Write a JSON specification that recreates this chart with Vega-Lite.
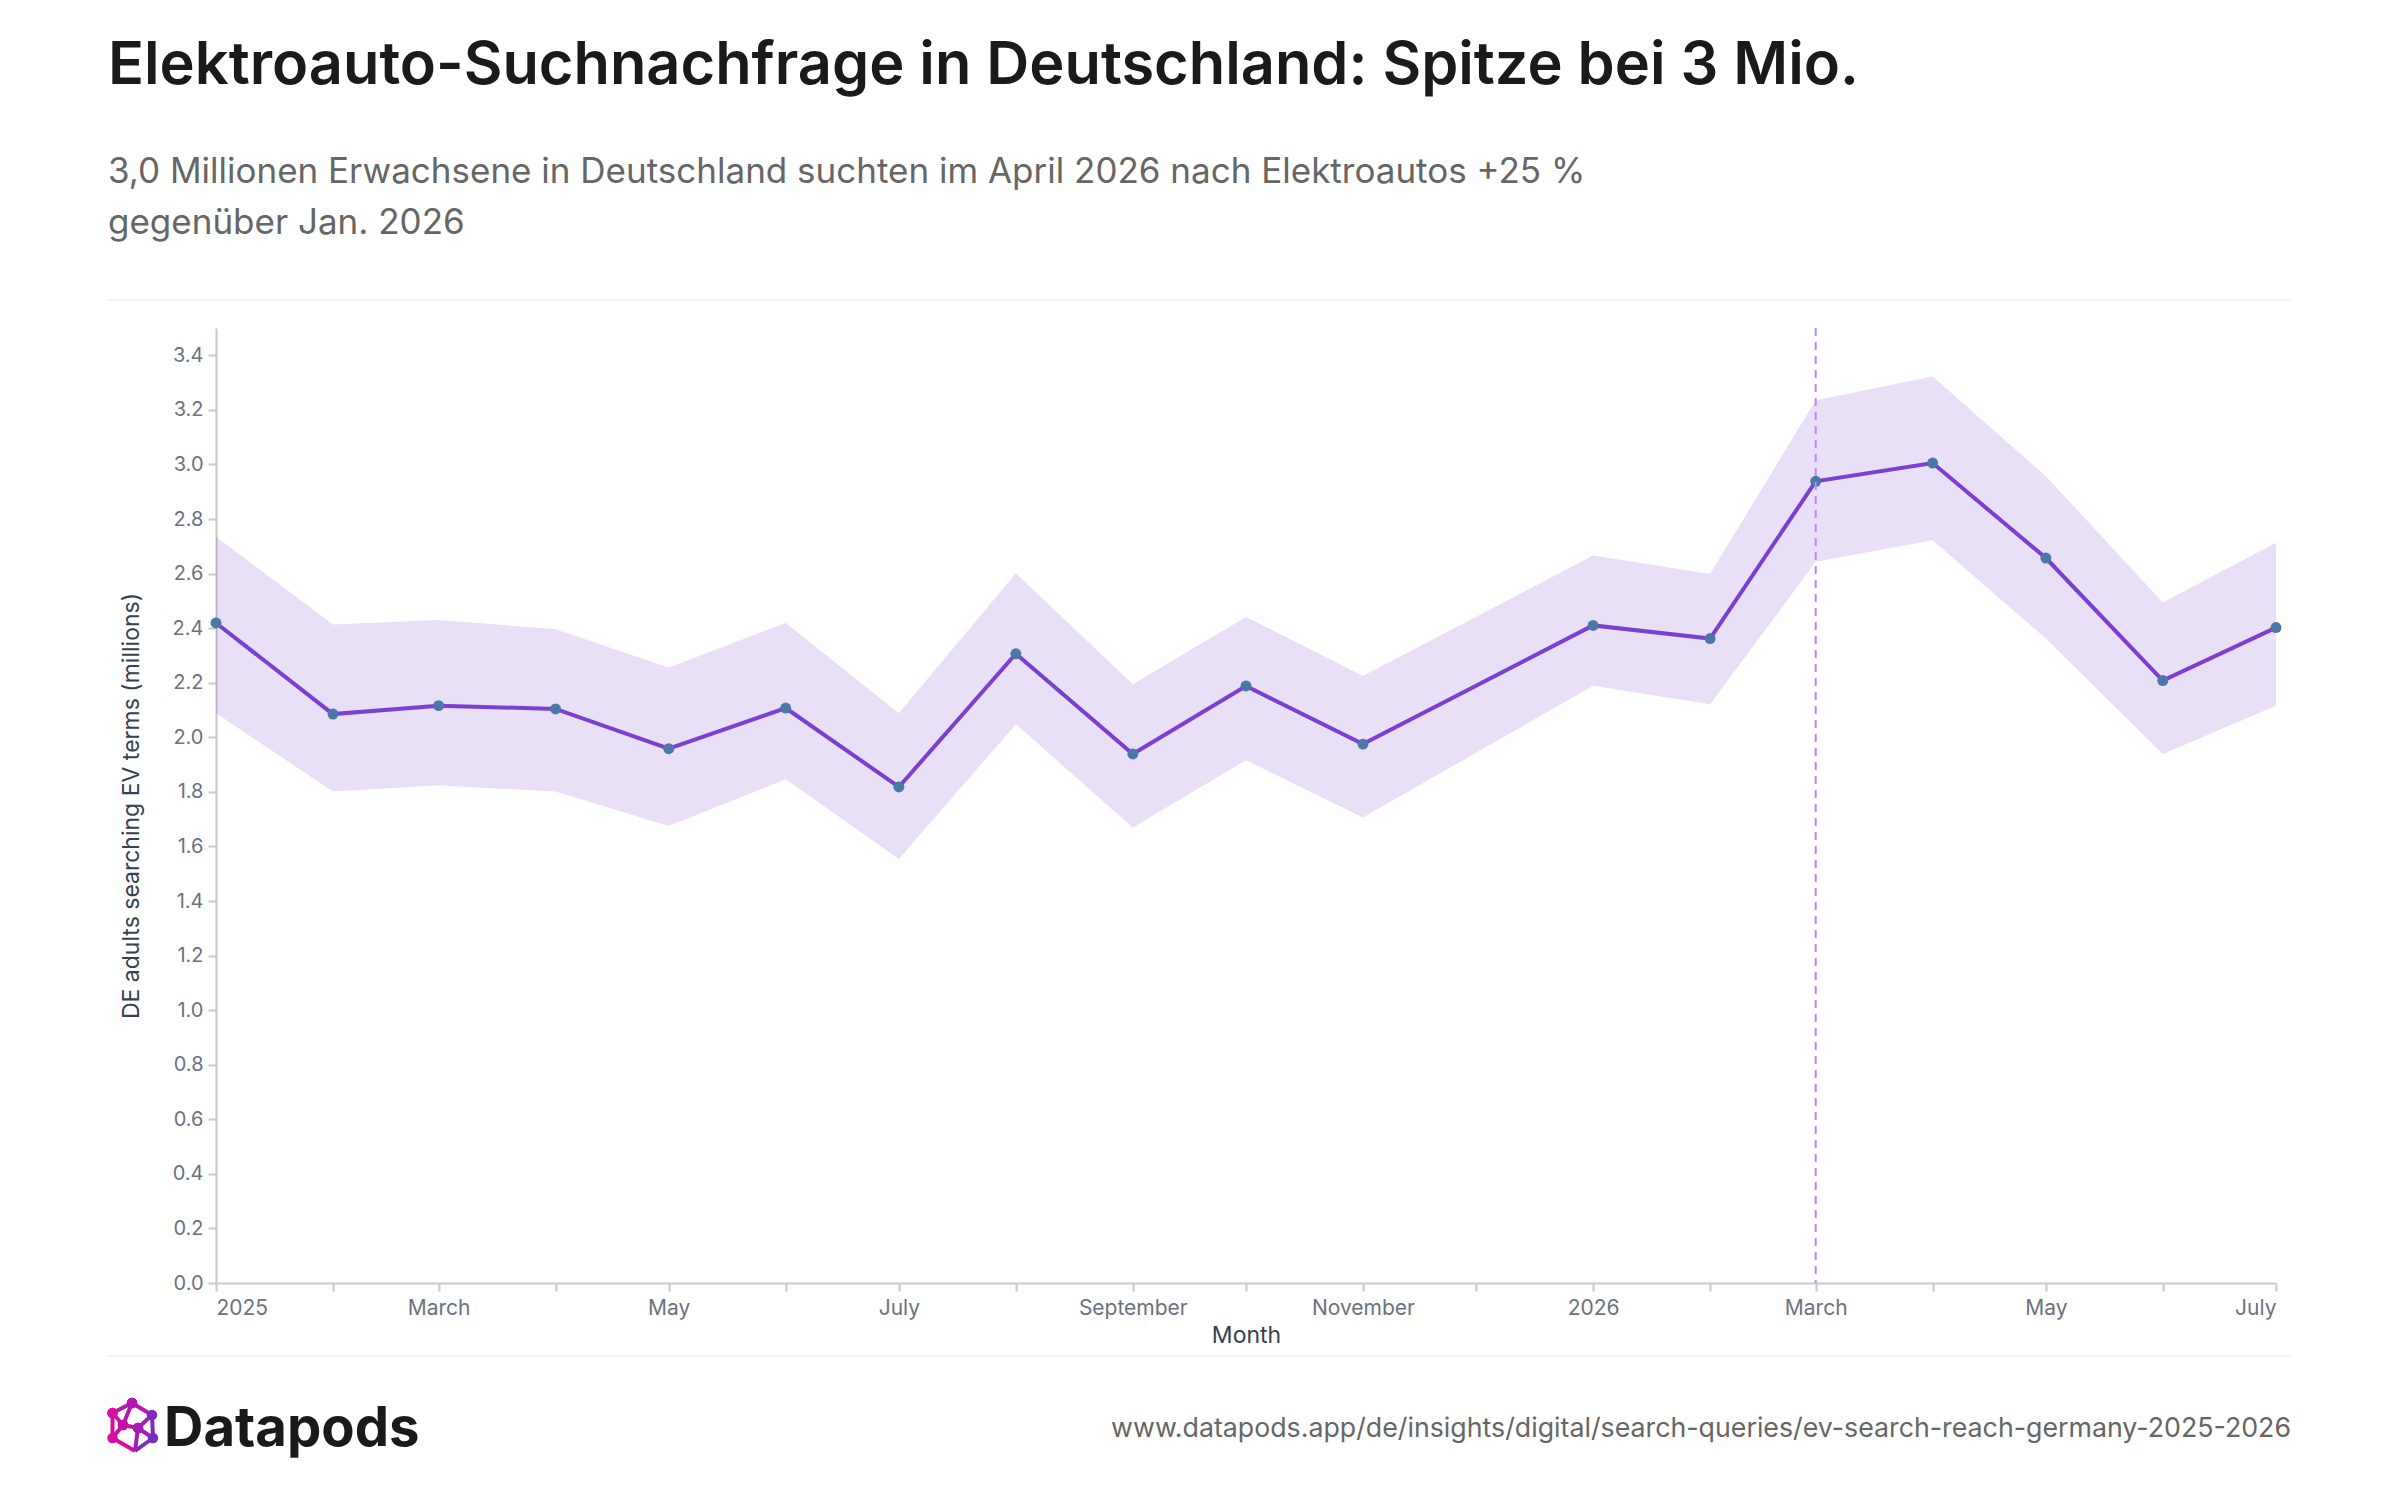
{
  "$schema": "https://vega.github.io/schema/vega-lite/v6.json",
  "width": 2060,
  "height": 955,
  "autosize": "none",
  "padding": {"left": 216, "top": 328, "right": 124, "bottom": 217},
  "background": "white",
  "title": {
    "text": "Elektroauto-Suchnachfrage in Deutschland: Spitze bei 3 Mio.",
    "subtitle": ["3,0 Millionen Erwachsene in Deutschland suchten im April 2026 nach Elektroautos +25 %", "gegenüber Jan. 2026"],
    "anchor": "start",
    "frame": "group",
    "dx": -108,
    "offset": 57,
    "font": "Inter",
    "fontSize": 59.5,
    "fontWeight": 600,
    "color": "#1a1a1a",
    "subtitleFont": "Inter",
    "subtitleFontSize": 35,
    "subtitleFontWeight": 400,
    "subtitleColor": "#666666",
    "subtitleLineHeight": 51,
    "subtitlePadding": 58.5
  },
  "config": {
    "view": {"stroke": null},
    "axis": {
      "labelFont": "Inter",
      "labelFontSize": 20,
      "labelColor": "#6b7280",
      "titleFont": "Inter",
      "titleFontSize": 23,
      "titleFontWeight": 400,
      "titleColor": "#374151",
      "domainColor": "#c8c8c8",
      "domainWidth": 2,
      "tickColor": "#c8c8c8",
      "tickWidth": 2,
      "tickSize": 8,
      "grid": false
    }
  },
  "resolve": {"scale": {"x": "independent", "y": "independent", "color": "independent"}},
  "layer": [
    {
      "data": {
        "values": [
          {"month": "2025-01-01T00:00:00", "reach": 2.419, "low": 2.088, "high": 2.735},
          {"month": "2025-02-01T00:00:00", "reach": 2.085, "low": 1.801, "high": 2.413},
          {"month": "2025-03-01T00:00:00", "reach": 2.116, "low": 1.824, "high": 2.43},
          {"month": "2025-04-01T00:00:00", "reach": 2.104, "low": 1.801, "high": 2.396},
          {"month": "2025-05-01T00:00:00", "reach": 1.958, "low": 1.675, "high": 2.256},
          {"month": "2025-06-01T00:00:00", "reach": 2.107, "low": 1.846, "high": 2.419},
          {"month": "2025-07-01T00:00:00", "reach": 1.818, "low": 1.554, "high": 2.088},
          {"month": "2025-08-01T00:00:00", "reach": 2.306, "low": 2.048, "high": 2.601},
          {"month": "2025-09-01T00:00:00", "reach": 1.939, "low": 1.669, "high": 2.194},
          {"month": "2025-10-01T00:00:00", "reach": 2.188, "low": 1.916, "high": 2.441},
          {"month": "2025-11-01T00:00:00", "reach": 1.975, "low": 1.706, "high": 2.225},
          {"month": "2026-01-01T00:00:00", "reach": 2.41, "low": 2.189, "high": 2.666},
          {"month": "2026-02-01T00:00:00", "reach": 2.362, "low": 2.121, "high": 2.598},
          {"month": "2026-03-01T00:00:00", "reach": 2.938, "low": 2.643, "high": 3.235},
          {"month": "2026-04-01T00:00:00", "reach": 3.005, "low": 2.722, "high": 3.322},
          {"month": "2026-05-01T00:00:00", "reach": 2.657, "low": 2.362, "high": 2.957},
          {"month": "2026-06-01T00:00:00", "reach": 2.208, "low": 1.939, "high": 2.494},
          {"month": "2026-07-01T00:00:00", "reach": 2.402, "low": 2.116, "high": 2.713}
        ]
      },
      "encoding": {
        "x": {
          "field": "month",
          "type": "temporal",
          "title": "Month",
          "scale": {"nice": false},
          "axis": {"tickCount": "month", "labelOverlap": "parity", "labelSeparation": 80, "labelFlush": true, "labelFontSize": 21, "labelPadding": 6, "titlePadding": 6}
        }
      },
      "layer": [
        {
          "mark": {"type": "area", "color": "#7b3fd1", "opacity": 0.17},
          "encoding": {
            "y": {"field": "low", "type": "quantitative"},
            "y2": {"field": "high"}
          }
        },
        {
          "mark": {"type": "line", "color": "#7b3fd1", "strokeWidth": 4},
          "encoding": {
            "y": {
              "field": "reach",
              "type": "quantitative",
              "title": "DE adults searching EV terms (millions)",
              "scale": {"domain": [0, 3.5], "nice": false},
              "axis": {"tickCount": 18, "format": ".1f", "labelPadding": 5, "titlePadding": 29}
            }
          }
        },
        {
          "mark": {"type": "point", "filled": true, "color": "#4c78a8", "opacity": 1, "size": 120},
          "encoding": {"y": {"field": "reach", "type": "quantitative"}}
        },
        {
          "data": {"values": [{"marker": "2026-03-01T00:00:00"}]},
          "mark": {"type": "rule", "color": "#c084fc", "strokeWidth": 2, "strokeDash": [8, 6]},
          "encoding": {"x": {"field": "marker", "type": "temporal"}}
        }
      ]
    },
    {
      "data": {"values": [{"part": "footer"}]},
      "encoding": {
        "x": {"datum": 0, "type": "quantitative", "scale": {"domain": [0, 1], "range": [-108, 2075], "nice": false, "zero": false}, "axis": null},
        "y": {"datum": 0, "type": "quantitative", "scale": {"domain": [0, 1], "range": [-28, 1028], "nice": false, "zero": false}, "axis": null}
      },
      "layer": [
        {
          "mark": {"type": "rule", "color": "#f3f3f3", "strokeWidth": 2},
          "encoding": {"x2": {"datum": 1}}
        },
        {
          "mark": {"type": "rule", "color": "#f3f3f3", "strokeWidth": 2},
          "encoding": {
            "y": {"datum": 1, "type": "quantitative"},
            "x2": {"datum": 1}
          }
        },
        {
          "mark": {"type": "text", "text": "Datapods", "font": "Inter", "fontSize": 54.5, "fontWeight": 700, "color": "#1a1a1a", "align": "left", "baseline": "alphabetic"},
          "encoding": {
            "x": {"datum": 0.0257, "type": "quantitative"},
            "y": {"datum": 1.0855, "type": "quantitative"}
          }
        },
        {
          "mark": {"type": "text", "text": "www.datapods.app/de/insights/digital/search-queries/ev-search-reach-germany-2025-2026", "font": "Inter", "fontSize": 26.75, "color": "#666666", "align": "right", "baseline": "alphabetic"},
          "encoding": {
            "x": {"datum": 1, "type": "quantitative"},
            "y": {"datum": 1.077, "type": "quantitative"}
          }
        }
      ]
    },
    {
      "data": {
        "values": [
          {"u": 24, "v": 2, "u2": 4.5, "v2": 12},
          {"u": 24, "v": 2, "u2": 44, "v2": 14},
          {"u": 4.5, "v": 12, "u2": 4.5, "v2": 37},
          {"u": 44, "v": 14, "u2": 45, "v2": 37},
          {"u": 4.5, "v": 37, "u2": 27, "v2": 50},
          {"u": 45, "v": 37, "u2": 27, "v2": 50},
          {"u": 24, "v": 2, "u2": 15, "v2": 24},
          {"u": 4.5, "v": 12, "u2": 15, "v2": 24},
          {"u": 15, "v": 24, "u2": 30, "v2": 27},
          {"u": 30, "v": 27, "u2": 44, "v2": 14},
          {"u": 30, "v": 27, "u2": 45, "v2": 37},
          {"u": 30, "v": 27, "u2": 27, "v2": 50},
          {"u": 15, "v": 24, "u2": 4.5, "v2": 37}
        ]
      },
      "encoding": {
        "x": {"field": "u", "type": "quantitative", "scale": {"domain": [0, 50], "range": [-108, -58], "nice": false, "zero": false}, "axis": null},
        "y": {"field": "v", "type": "quantitative", "scale": {"domain": [0, 52], "range": [1073, 1125], "nice": false, "zero": false}, "axis": null},
        "color": {"field": "u", "type": "quantitative", "legend": null, "scale": {"domain": [0, 50], "range": ["#e0109a", "#6a2fc0"]}}
      },
      "layer": [
        {
          "mark": {"type": "rule", "strokeWidth": 4},
          "encoding": {"x2": {"field": "u2"}, "y2": {"field": "v2"}}
        },
        {
          "mark": {"type": "point", "filled": true, "opacity": 1, "size": 110}
        }
      ]
    }
  ]
}
